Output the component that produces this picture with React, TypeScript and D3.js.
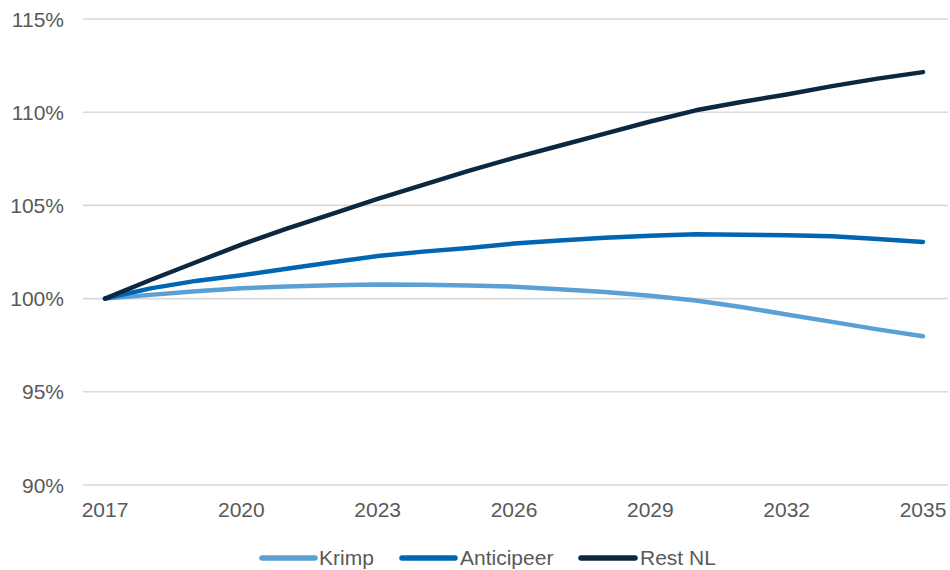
import React from "react";
import * as d3 from "d3";

// Population index per region, 2017 = 100%
const years = [2017, 2018, 2019, 2020, 2021, 2022, 2023, 2024, 2025, 2026, 2027, 2028, 2029, 2030, 2031, 2032, 2033, 2034, 2035];
const krimp = [100, 100.2, 100.4, 100.55, 100.65, 100.72, 100.76, 100.74, 100.7, 100.64, 100.5, 100.35, 100.15, 99.9, 99.55, 99.15, 98.75, 98.35, 97.98];
const anticipeer = [100, 100.55, 100.95, 101.25, 101.6, 101.95, 102.28, 102.52, 102.72, 102.95, 103.12, 103.27, 103.37, 103.45, 103.43, 103.4, 103.35, 103.2, 103.04];
const restNL = [100, 101.0, 101.95, 102.9, 103.75, 104.55, 105.35, 106.1, 106.85, 107.55, 108.2, 108.85, 109.5, 110.1, 110.55, 110.95, 111.4, 111.8, 112.15];

const yTicks = [90, 95, 100, 105, 110, 115];
const xTicks = [2017, 2020, 2023, 2026, 2029, 2032, 2035];

const seriesNames = ["Krimp", "Anticipeer", "Rest NL"];
const seriesColors = ["#5BA0D5", "#0066B3", "#0C2840"];
const seriesValues = [krimp, anticipeer, restNL];

const W = 950;
const H = 570;
const FONT = "'Liberation Sans', Arial, sans-serif";
const TEXT = "#595959";

export default function App() {
  const x = d3.scaleLinear().domain([2017, 2035]).range([105, 923]);
  const y = d3.scaleLinear().domain([90, 115]).range([485, 19]);

  const line = d3
    .line<number>()
    .x((_, i) => x(years[i]))
    .y((v) => y(v))
    .curve(d3.curveLinear);

  const legendItems = [
    { x1: 262, x2: 315, tx: 319 },
    { x1: 402, x2: 455, tx: 460 },
    { x1: 581, x2: 635, tx: 640 },
  ];

  return (
    <svg
      width={W}
      height={H}
      style={{ position: "absolute", left: 0, top: 0, background: "#fff" }}
      fontFamily={FONT}
    >
      {/* horizontal gridlines */}
      {yTicks.map((t) => (
        <line key={"g" + t} x1={83} x2={948} y1={y(t)} y2={y(t)} stroke="#d9d9d9" strokeWidth={1.6} />
      ))}
      {/* y-axis labels */}
      {yTicks.map((t) => (
        <text key={"y" + t} x={64} y={y(t)} dy="0.36em" textAnchor="end" fontSize={21} fill={TEXT}>
          {t}%
        </text>
      ))}
      {/* x-axis labels */}
      {xTicks.map((t) => (
        <text key={"x" + t} x={x(t)} y={517} textAnchor="middle" fontSize={21} fill={TEXT}>
          {t}
        </text>
      ))}
      {/* series lines */}
      {seriesValues.map((vals, i) => (
        <path
          key={seriesNames[i]}
          d={line(vals) || ""}
          fill="none"
          stroke={seriesColors[i]}
          strokeWidth={4.5}
          strokeLinecap="round"
          strokeLinejoin="round"
        />
      ))}
      {/* legend */}
      {legendItems.map((it, i) => (
        <g key={"l" + i}>
          <line x1={it.x1} x2={it.x2} y1={558} y2={558} stroke={seriesColors[i]} strokeWidth={5.5} strokeLinecap="round" />
          <text x={it.tx} y={565} fontSize={21} fill={TEXT}>
            {seriesNames[i]}
          </text>
        </g>
      ))}
    </svg>
  );
}
